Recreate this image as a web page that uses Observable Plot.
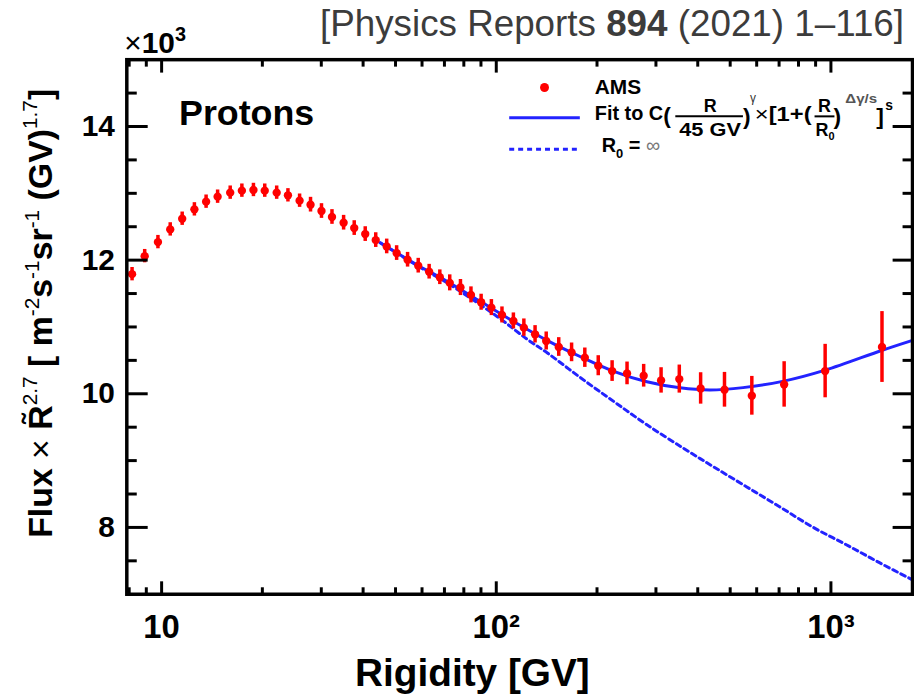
<!DOCTYPE html>
<html><head><meta charset="utf-8">
<script src="https://cdn.jsdelivr.net/npm/d3@7"></script>
<script src="https://cdn.jsdelivr.net/npm/@observablehq/plot@0.6"></script>
<style>
html,body{margin:0;padding:0;overflow:hidden;background:#fff;}
#chart{position:relative;width:914px;height:700px;overflow:hidden;}
</style></head><body><div id="chart"></div>
<script>
// AMS proton data: rigidity [GV], Flux x R^2.7 [x10^3], error
const rigidity = [8.16, 8.90, 9.75, 10.61, 11.52, 12.53, 13.58, 14.70, 16.03, 17.37, 18.81, 20.33, 22.07, 23.85, 25.84, 27.86, 30.04, 32.29, 34.98, 37.63, 40.59, 43.63, 47.05, 50.38, 54.32, 58.45, 63.01, 67.81, 72.60, 78.16, 84.02, 90.1, 96.7, 104.0, 112.5, 120.9, 130.6, 141.0, 153.7, 167.9, 183.9, 201.7, 221.9, 245.9, 275.7, 310.8, 352.3, 408.0, 480.8, 580.3, 724.8, 961, 1421];
const flux = [11.79, 12.06, 12.27, 12.46, 12.62, 12.76, 12.875, 12.95, 13.01, 13.04, 13.05, 13.04, 13.01, 12.97, 12.89, 12.83, 12.735, 12.646, 12.56, 12.48, 12.39, 12.30, 12.205, 12.106, 12.006, 11.917, 11.827, 11.744, 11.66, 11.59, 11.48, 11.37, 11.29, 11.18, 11.09, 10.99, 10.89, 10.79, 10.70, 10.62, 10.54, 10.42, 10.34, 10.305, 10.27, 10.20, 10.22, 10.08, 10.06, 9.97, 10.14, 10.34, 10.70];
const fluxErr = [0.10, 0.10, 0.10, 0.10, 0.10, 0.10, 0.10, 0.10, 0.10, 0.10, 0.10, 0.10, 0.10, 0.10, 0.10, 0.11, 0.11, 0.11, 0.11, 0.11, 0.11, 0.11, 0.11, 0.11, 0.11, 0.11, 0.11, 0.11, 0.12, 0.12, 0.12, 0.12, 0.12, 0.12, 0.12, 0.13, 0.13, 0.135, 0.14, 0.14, 0.145, 0.15, 0.155, 0.17, 0.17, 0.19, 0.21, 0.235, 0.26, 0.29, 0.34, 0.40, 0.53];
// Fit curve
const fitRigidity = [45.0, 58.4, 71.8, 90.0, 113.3, 142.2, 178.6, 224.5, 281.9, 354, 434.5, 546.4, 723.3, 961.6, 1424, 1753];
const fitFlux = [12.26, 11.92, 11.674, 11.376, 11.074, 10.796, 10.554, 10.335, 10.179, 10.089, 10.057, 10.092, 10.190, 10.354, 10.652, 10.80];
// R0 = infinity curve
const pwRigidity = [45.0, 58.4, 71.8, 101.0, 124.1, 142.2, 178.6, 224.5, 281.9, 362.5, 444.9, 558.9, 702.2, 882.3, 1108, 1392, 1753];
const pwFlux = [12.26, 11.91, 11.65, 11.15, 10.81, 10.61, 10.24, 9.884, 9.536, 9.185, 8.91, 8.61, 8.31, 8.005, 7.745, 7.476, 7.215];
// Axis ticks
const xMajorTicks = [10, 100, 1000];
const xTickLabels = ["10", "10²", "10³"];
const xMinorTicks = [8, 9, 20, 30, 40, 50, 60, 70, 80, 90, 200, 300, 400, 500, 600, 700, 800, 900];
const yMajorTicks = [8, 10, 12, 14];
const yMinorTicks = [7.5, 8.5, 9, 9.5, 10.5, 11, 11.5, 12.5, 13, 13.5, 14.5];

const points = rigidity.map((r, i) => ({R: r, F: flux[i], E: fluxErr[i]}));
const fit = fitRigidity.map((r, i) => ({R: r, F: fitFlux[i]}));
const pwl = pwRigidity.map((r, i) => ({R: r, F: pwFlux[i]}));
const xLabel = new Map(xMajorTicks.map((t, i) => [t, xTickLabels[i]]));

const W = 919, H = 700, mL = 127, mR = 2, mT = 59.5, mB = 103;
const PW = W - mL - mR, PH = H - mT - mB;
const X0 = 7.87, X1 = 1753, Y0 = 7, Y1 = 15;
const FONT = "'Liberation Sans', Arial, Helvetica, sans-serif";
const BLUE = "#2323ff";

// inward tick segments: lengths in px converted to the scales' units
const yPx = (Y1 - Y0) / PH;
const xDec = Math.log10(X1 / X0) / PW;
const xIn = px => X0 * Math.pow(10, px * xDec);
const xOut = px => X1 / Math.pow(10, px * xDec);
const segs = [];
for (const t of xMajorTicks) {
  segs.push({x1: t, x2: t, y1: Y0, y2: Y0 + 13 * yPx});
  segs.push({x1: t, x2: t, y1: Y1 - 13 * yPx, y2: Y1});
}
for (const t of xMinorTicks) {
  segs.push({x1: t, x2: t, y1: Y0, y2: Y0 + 7 * yPx});
  segs.push({x1: t, x2: t, y1: Y1 - 7 * yPx, y2: Y1});
}
for (const t of yMajorTicks) {
  segs.push({x1: X0, x2: xIn(21), y1: t, y2: t});
  segs.push({x1: xOut(20), x2: X1, y1: t, y2: t});
}
for (const t of yMinorTicks) {
  segs.push({x1: X0, x2: xIn(10), y1: t, y2: t});
  segs.push({x1: xOut(10), x2: X1, y1: t, y2: t});
}

const svg = Plot.plot({
  width: W, height: H,
  marginLeft: mL, marginRight: mR, marginTop: mT, marginBottom: mB,
  style: {fontFamily: FONT, background: "white", color: "black", overflow: "visible"},
  x: {type: "log", domain: [X0, X1], axis: null},
  y: {domain: [Y0, Y1], axis: null},
  marks: [
    Plot.line(pwl, {x: "R", y: "F", stroke: BLUE, strokeWidth: 3, strokeDasharray: "5,4", curve: "catmull-rom"}),
    Plot.line(fit, {x: "R", y: "F", stroke: BLUE, strokeWidth: 3, curve: "catmull-rom"}),
    Plot.ruleX(points, {x: "R", y1: d => d.F - d.E, y2: d => d.F + d.E, stroke: "#ff0000", strokeWidth: 3.5}),
    Plot.dot(points, {x: "R", y: "F", r: 4.2, fill: "#ff0000"}),
    Plot.link(segs, {x1: "x1", y1: "y1", x2: "x2", y2: "y2", stroke: "#000000", strokeWidth: 3}),
    Plot.frame({stroke: "black", strokeWidth: 3.5}),
    Plot.axisX(xMajorTicks, {label: null, tickSize: 0, tickPadding: 21, tickFormat: d => xLabel.get(d), fontSize: 33, fontWeight: "bold", fill: "black"}),
    Plot.axisY(yMajorTicks, {label: null, tickSize: 0, tickPadding: 12, tickFormat: d => String(d), fontSize: 30, fontWeight: "bold", fill: "black"})
  ]
});

const s = d3.select(svg);
function T(x, y, size, weight, fill, anchor) {
  return s.append("text").attr("x", x).attr("y", y).attr("font-size", size)
    .attr("font-weight", weight || "bold").attr("fill", fill || "black")
    .attr("text-anchor", anchor || "start").attr("font-family", FONT);
}
// Citation
const cite = T(909, 36, 37, "normal", "#3c3c3c", "end");
cite.append("tspan").text("[Physics Reports ");
cite.append("tspan").attr("font-weight", "bold").text("894");
cite.append("tspan").text(" (2021) 1–116]");
// x10^3
const ex = T(125, 53, 30, "bold");
ex.append("tspan").attr("font-weight", "normal").text("×");
ex.append("tspan").text("10");
ex.append("tspan").attr("font-size", 20).attr("dy", -12).text("3");
// Protons
T(180, 126, 36, "bold").text("Protons");
// x axis title
T(475, 690, 39, "bold", "black", "middle").text("Rigidity [GV]");
// y axis title
const yl = s.append("text").attr("transform", "translate(52,315) rotate(-90)")
  .attr("text-anchor", "middle").attr("font-size", 34).attr("font-weight", "bold")
  .attr("font-family", FONT).attr("fill", "black");
yl.append("tspan").text("Flux ");
yl.append("tspan").attr("font-weight", "normal").text("×");
yl.append("tspan").text(" R\u0303");
yl.append("tspan").attr("font-size", 21).attr("font-weight", "normal").attr("dy", -15).text("2.7");
yl.append("tspan").attr("dy", 15).text(" [ m");
yl.append("tspan").attr("font-size", 21).attr("font-weight", "normal").attr("dy", -13).text("-2");
yl.append("tspan").attr("dy", 13).text("s");
yl.append("tspan").attr("font-size", 21).attr("font-weight", "normal").attr("dy", -13).text("-1");
yl.append("tspan").attr("dy", 13).text("sr");
yl.append("tspan").attr("font-size", 21).attr("font-weight", "normal").attr("dy", -13).text("-1");
yl.append("tspan").attr("dy", 13).text(" (GV)");
yl.append("tspan").attr("font-size", 21).attr("font-weight", "normal").attr("dy", -15).text("1.7");
yl.append("tspan").attr("dy", 15).text("]");

// Legend
s.append("circle").attr("cx", 547.5).attr("cy", 88).attr("r", 4.5).attr("fill", "#ff0000");
T(598, 95, 21, "bold").text("AMS");
s.append("line").attr("x1", 512).attr("x2", 583).attr("y1", 118.5).attr("y2", 118.5).attr("stroke", BLUE).attr("stroke-width", 3);
s.append("line").attr("x1", 512).attr("x2", 583).attr("y1", 150).attr("y2", 150).attr("stroke", BLUE).attr("stroke-width", 3).attr("stroke-dasharray", "5,4");
T(598, 121, 20, "bold").text("Fit to C");
T(667, 124, 23, "bold").text("(");
T(714, 113, 18, "bold", "black", "middle").text("R");
s.append("line").attr("x1", 679).attr("x2", 747).attr("y1", 117).attr("y2", 117).attr("stroke", "black").attr("stroke-width", 2);
T(683, 137, 18, "bold").attr("textLength", 62).attr("lengthAdjust", "spacingAndGlyphs").text("45 GV");
T(747, 125, 23, "bold").text(")");
T(754, 103, 12, "normal", "#333").text("γ");
const f2 = T(759, 122, 21, "bold").attr("textLength", 57).attr("lengthAdjust", "spacingAndGlyphs");
f2.append("tspan").attr("font-weight", "normal").text("×");
f2.append("tspan").text("[1+(");
T(829, 113, 18, "bold", "black", "middle").text("R");
s.append("line").attr("x1", 819).attr("x2", 839).attr("y1", 117).attr("y2", 117).attr("stroke", "black").attr("stroke-width", 2);
const r0 = T(820, 137, 18, "bold");
r0.append("tspan").text("R");
r0.append("tspan").attr("font-size", 11).attr("dy", 4).text("0");
T(838, 125, 23, "bold").text(")");
T(850, 104, 13, "bold", "#555").attr("textLength", 32).attr("lengthAdjust", "spacingAndGlyphs").text("Δγ/s");
T(881, 125, 23, "bold").text("]");
T(890, 111, 14, "bold").text("s");
const leg3 = T(605, 153, 20, "bold");
leg3.append("tspan").text("R");
leg3.append("tspan").attr("font-size", 13).attr("dy", 6).text("0");
leg3.append("tspan").attr("dy", -6).text(" = ");
leg3.append("tspan").attr("font-weight", "normal").attr("fill", "#777").text("∞");

document.getElementById("chart").appendChild(svg);
</script>
</body></html>
